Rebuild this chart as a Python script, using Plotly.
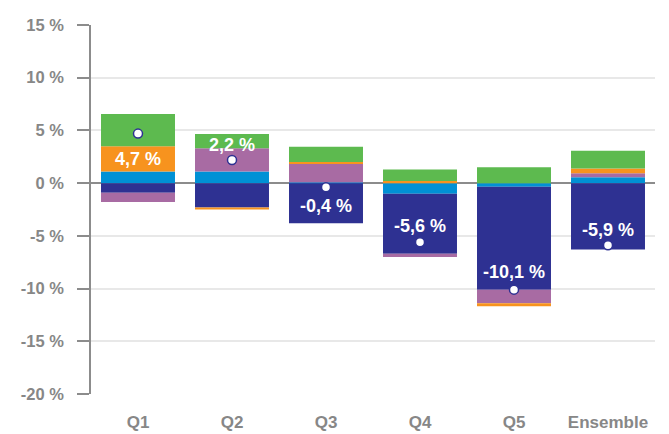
import plotly.graph_objects as go

categories = ["Q1", "Q2", "Q3", "Q4", "Q5", "Ensemble"]

# stacked components (%)
blue_vals = [1.1, 1.1, 0.05, -1.0, -0.35, 0.55]
navy_vals = [-0.9, -2.3, -3.8, -5.7, -9.75, -6.3]
purple_vals = [-0.9, 2.2, 1.85, -0.3, -1.3, 0.38]
orange_vals = [2.4, -0.2, 0.1, 0.2, -0.28, 0.45]
green_vals = [3.05, 1.35, 1.45, 1.1, 1.5, 1.7]

totals = [4.7, 2.2, -0.4, -5.6, -10.1, -5.9]
total_labels = ["4,7 %", "2,2 %", "-0,4 %", "-5,6 %", "-10,1 %", "-5,9 %"]

y_tickvals = [15, 10, 5, 0, -5, -10, -15, -20]
y_ticktext = ["15 %", "10 %", "5 %", "0 %", "-5 %", "-10 %", "-15 %", "-20 %"]

series = [
    ("Bleu", blue_vals, "#0091d5"),
    ("Marine", navy_vals, "#2e3192"),
    ("Violet", purple_vals, "#a86ba3"),
    ("Orange", orange_vals, "#f7931e"),
    ("Vert", green_vals, "#5dba4f"),
]

FONT = "Arial, Liberation Sans, sans-serif"

fig = go.Figure()
for name, vals, col in series:
    fig.add_trace(go.Bar(x=categories, y=vals, name=name, marker_color=col,
                         marker_line_width=0, width=0.787))

fig.add_trace(go.Scatter(x=categories, y=totals, mode="markers",
                         marker=dict(size=9, color="white",
                                     line=dict(color="#2e3192", width=1.5)),
                         showlegend=False))

label_shift = [-25, 15, -19, 16, 18, 15]
for c, t, lab, s in zip(categories, totals, total_labels, label_shift):
    fig.add_annotation(x=c, y=t, text=lab, showarrow=False, yshift=s,
                       font=dict(family=FONT, size=18,
                                 color="white", weight="bold"))

# page body adds an 8px offset; figure is sized so it fits in the window and
# the plot area lands at x 91..655, y 25..394 in the browser window
fig.update_layout(
    barmode="relative",
    width=661, height=426,
    margin=dict(l=83, r=14, t=17, b=40, autoexpand=False),
    plot_bgcolor="white", paper_bgcolor="white",
    showlegend=False,
    bargap=0.213,
)
fig.update_xaxes(
    range=[-0.5, 5.5], showline=False, showgrid=False, ticks="",
    automargin=False,
    ticklabelstandoff=16,
    tickfont=dict(family=FONT, size=17, color="#878787", weight="bold"),
)
fig.update_yaxes(
    range=[-20, 15], tickvals=y_tickvals, ticktext=y_ticktext,
    automargin=False,
    showline=True, linecolor="#8c8c8c", linewidth=1.5,
    ticks="outside", ticklen=12, tickcolor="#8c8c8c", tickwidth=1.5,
    ticklabelstandoff=10,
    showgrid=True, gridcolor="#e8e8e8", gridwidth=1.5,
    zeroline=True, zerolinecolor="#8c8c8c", zerolinewidth=1.5,
    tickfont=dict(family=FONT, size=16.5, color="#878787", weight="bold"),
)

fig.write_html("out.html")
